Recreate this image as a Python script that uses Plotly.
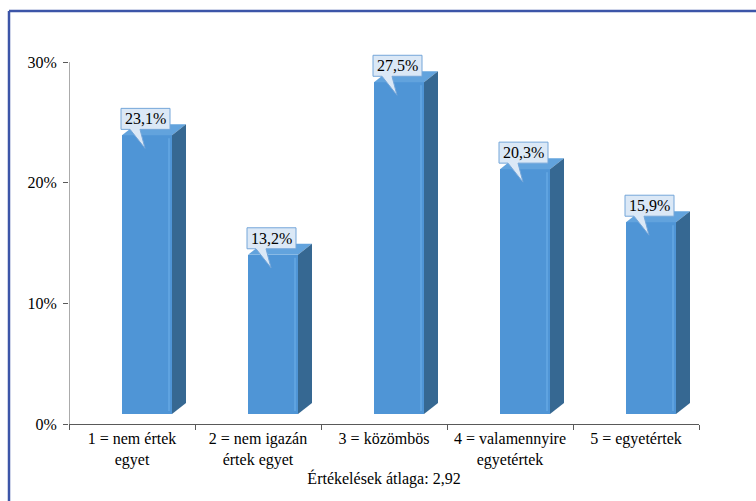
import plotly.graph_objects as go

# Survey answers on a 1-5 agreement scale
categories = ["1 = nem értek<br>egyet", "2 = nem igazán<br>értek egyet", "3 = közömbös",
              "4 = valamennyire<br>egyetértek", "5 = egyetértek"]
shares = [23.1, 13.2, 27.5, 20.3, 15.9]
value_labels = ["23,1%", "13,2%", "27,5%", "20,3%", "15,9%"]
y_ticks = [0, 10, 20, 30]
y_tick_labels = ["0%", "10%", "20%", "30%"]
x_title = "Értékelések átlaga: 2,92"

# Canvas and plot-area geometry (pixels)
W, H = 756, 501
ML, MR, MT, MB = 69, 57, 38, 77
Y_MAX = 32
XU = 5 / (W - ML - MR)          # x data units per pixel
YU = Y_MAX / (H - MT - MB)      # y data units per pixel

FRONT = "#4f95d6"
TOP = "#62a3dd"
SIDE = "#366892"
AXIS = "#595959"
FONT = "Liberation Serif"

xs = list(range(1, len(shares) + 1))

fig = go.Figure()

# Front faces of the pseudo-3D columns
fig.add_trace(go.Bar(
    x=xs, y=shares, base=10 * YU, width=50 * XU, offset=-10 * XU,
    marker=dict(color=FRONT, line=dict(width=0)), hoverinfo="skip",
))

shapes = []
annotations = []
for i, v in zip(xs, shares):
    L, R = i - 10 * XU, i + 40 * XU
    B, T = 10 * YU, v + 10 * YU
    DX, DY = 14 * XU, 11 * YU
    # top face
    shapes.append(dict(type="path", xref="x", yref="y", layer="above",
                       path=f"M {L},{T} L {R},{T} L {R+DX},{T+DY} L {L+DX},{T+DY} Z",
                       fillcolor=TOP, line=dict(width=0)))
    # side face
    shapes.append(dict(type="path", xref="x", yref="y", layer="above",
                       path=f"M {R},{T} L {R+DX},{T+DY} L {R+DX},{B+DY} L {R},{B} Z",
                       fillcolor=SIDE, line=dict(width=0)))
    # soft highlight near the front edge
    shapes.append(dict(type="rect", xref="x", yref="y", layer="above",
                       x0=R - 4 * XU, x1=R - 2 * XU, y0=B + 3 * YU, y1=T - 3 * YU,
                       fillcolor="#6aaee6", line=dict(width=0), opacity=0.6))

    # callout box with a tail pointing at the value
    tx, ty = i + 13 * XU, v - 3 * YU
    bl, br = tx - 24 * XU, tx + 25 * XU
    bb, bt = ty + 19 * YU, ty + 40 * YU
    shapes.append(dict(type="path", xref="x", yref="y", layer="above",
                       path=(f"M {bl},{bb} L {tx-15*XU},{bb} L {tx},{ty} L {tx-5*XU},{bb} "
                             f"L {br},{bb} L {br},{bt} L {bl},{bt} Z"),
                       fillcolor="#dbe8f6", line=dict(color="#74a6d9", width=1)))

for i, v, lab in zip(xs, shares, value_labels):
    tx = i + 13 * XU
    annotations.append(dict(x=tx + 0.5 * XU, y=v + 26.5 * YU, xref="x", yref="y",
                            text=lab, showarrow=False,
                            font=dict(family=FONT, size=16, color="black")))

# value axis line, only up to the last tick
shapes.append(dict(type="line", xref="x", yref="y", x0=0.5, x1=0.5, y0=0, y1=30,
                   line=dict(color=AXIS, width=1)))

# blue frame around the chart (left and top edges)
def px_x(p):
    return (p - ML) / (W - ML - MR)

def px_y(p):
    return (H - MB - p) / (H - MT - MB)

shapes.append(dict(type="line", xref="paper", yref="paper",
                   x0=px_x(9), x1=px_x(9), y0=px_y(11), y1=px_y(H + 20),
                   line=dict(color="#3c55a8", width=2.5)))
shapes.append(dict(type="line", xref="paper", yref="paper",
                   x0=px_x(9), x1=px_x(W + 20), y0=px_y(11), y1=px_y(11),
                   line=dict(color="#3c55a8", width=2.5)))

fig.update_layout(
    template="none",
    width=W, height=H,
    margin=dict(l=ML, r=MR, t=MT, b=MB),
    paper_bgcolor="white", plot_bgcolor="white",
    showlegend=False,
    font=dict(family=FONT, size=16, color="black"),
    shapes=shapes,
    annotations=annotations,
    xaxis=dict(
        range=[0.5, 5.5], tickmode="array", tickvals=xs, ticktext=categories,
        ticks="", showgrid=False, zeroline=False,
        showline=True, linecolor=AXIS, linewidth=1,
        minor=dict(tickmode="array", tickvals=[0.5, 1.5, 2.5, 3.5, 4.5, 5.5],
                   ticks="outside", ticklen=5, tickcolor=AXIS, showgrid=False),
        tickfont=dict(family=FONT, size=16, color="black"),
        title=dict(text=x_title, standoff=4,
                   font=dict(family=FONT, size=16, color="black")),
        fixedrange=True,
    ),
    yaxis=dict(
        range=[0, Y_MAX], tickmode="array", tickvals=y_ticks, ticktext=y_tick_labels,
        ticks="outside", ticklen=5, tickcolor=AXIS, showgrid=False, zeroline=False,
        showline=False, ticklabelstandoff=3,
        tickfont=dict(family=FONT, size=16, color="black"),
        fixedrange=True,
    ),
    bargap=0,
)

fig.write_html("out.html")
